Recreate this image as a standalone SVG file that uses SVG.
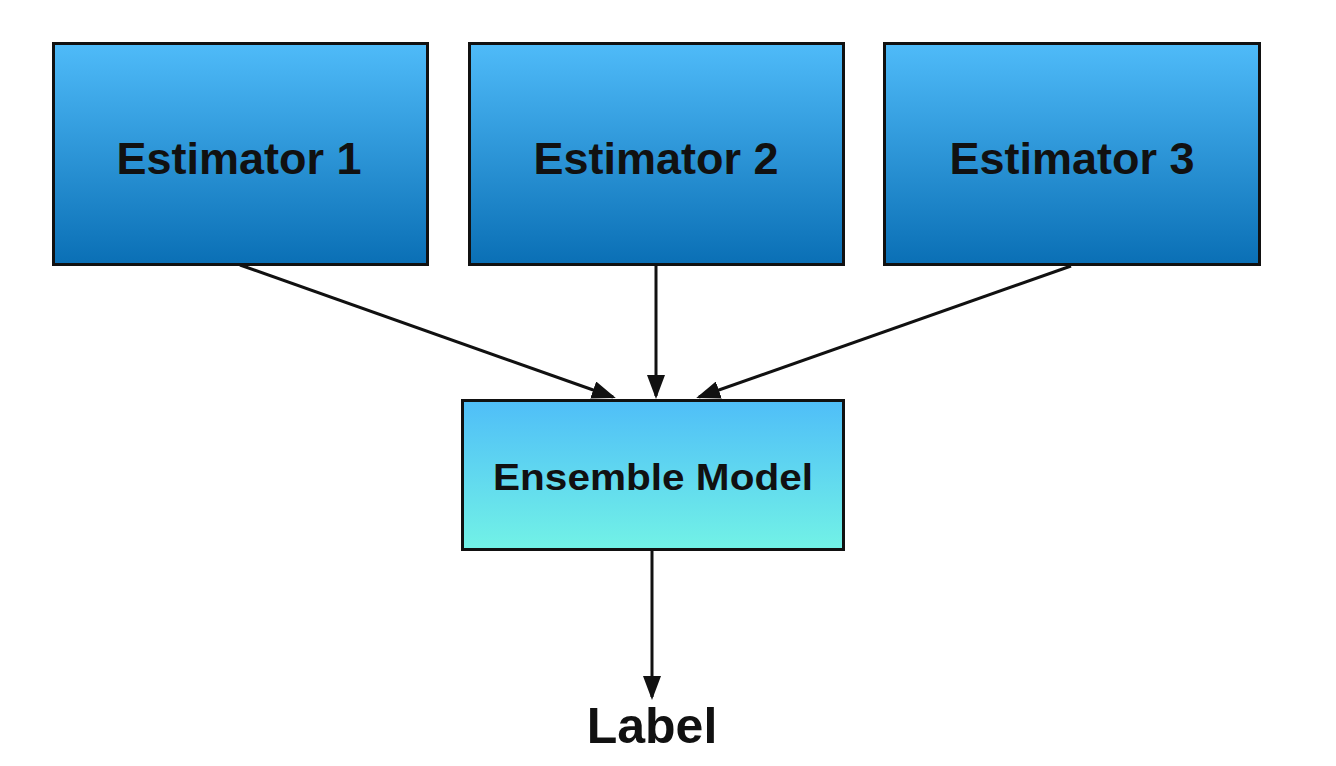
<svg xmlns="http://www.w3.org/2000/svg" width="1336" height="766" viewBox="0 0 1336 766">
<style>
.box{stroke:#111;stroke-width:3}
.est{fill:url(#gEst)}
.ens{fill:url(#gEns)}
.t{font-family:"Liberation Sans",Arial,sans-serif;font-weight:bold;fill:#111;text-anchor:middle}
.c{stroke:#111;stroke-width:3;fill:none;marker-end:url(#ah)}
</style>
<defs>
<linearGradient id="gEst" x1="0" y1="0" x2="0" y2="1">
<stop offset="0" stop-color="#4fbbf9"/>
<stop offset="1" stop-color="#0a6fb5"/>
</linearGradient>
<linearGradient id="gEns" x1="0" y1="0" x2="0" y2="1">
<stop offset="0" stop-color="#4fbef8"/>
<stop offset="1" stop-color="#72f2e6"/>
</linearGradient>
<marker id="ah" markerWidth="8" markerHeight="6" refX="7" refY="3" orient="auto" markerUnits="strokeWidth">
<path d="M0,0 L8,3 L0,6 z" fill="#111"/>
</marker>
</defs>
<rect width="1336" height="766" fill="#fff"/>
<g id="connectors">
<line class="c" x1="240" y1="265" x2="613" y2="397"/>
<line class="c" x1="656" y1="265" x2="656" y2="396"/>
<line class="c" x1="1071" y1="266" x2="699" y2="397"/>
<line class="c" x1="652" y1="551" x2="652" y2="697"/>
</g>
<g id="estimator1">
<rect class="box est" x="53.5" y="43.5" width="374" height="221"/>
<text class="t" x="239" y="174" font-size="45">Estimator 1</text>
</g>
<g id="estimator2">
<rect class="box est" x="469.5" y="43.5" width="374" height="221"/>
<text class="t" x="656" y="174" font-size="45">Estimator 2</text>
</g>
<g id="estimator3">
<rect class="box est" x="884.5" y="43.5" width="375" height="221"/>
<text class="t" x="1072" y="174" font-size="45">Estimator 3</text>
</g>
<g id="ensemble">
<rect class="box ens" x="462.5" y="400.5" width="381" height="149"/>
<text class="t" x="653" y="490" font-size="37" textLength="320" lengthAdjust="spacingAndGlyphs">Ensemble Model</text>
</g>
<g id="label">
<text class="t" x="652" y="743" font-size="50">Label</text>
</g>
</svg>
